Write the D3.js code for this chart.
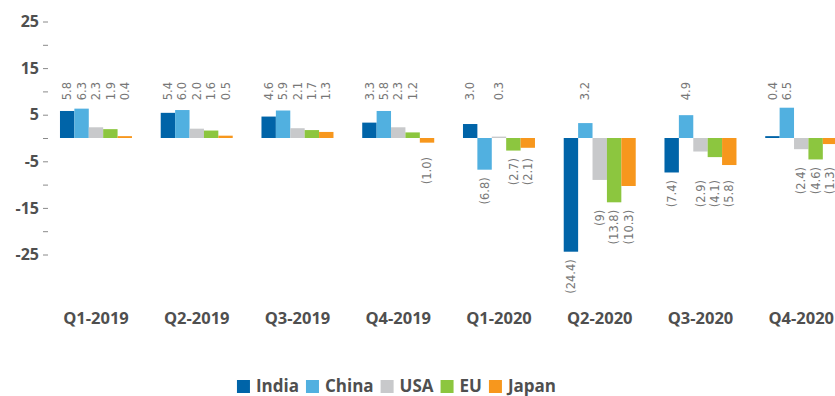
<!DOCTYPE html>
<html>
<head>
<meta charset="utf-8">
<script src="https://cdn.jsdelivr.net/npm/d3@7/dist/d3.min.js"></script>
<style>
  html, body { margin: 0; padding: 0; background: #fff; }
  svg { display: block; overflow: hidden; }
</style>
</head>
<body>
<svg id="chart" width="835" height="396"></svg>
<script>
// Quarterly GDP growth (%, year on year)
const categories = ["Q1-2019", "Q2-2019", "Q3-2019", "Q4-2019", "Q1-2020", "Q2-2020", "Q3-2020", "Q4-2020"];
const seriesNames = ["India", "China", "USA", "EU", "Japan"];
const india = ["5.8", "5.4", "4.6", "3.3", "3.0", "-24.4", "-7.4", "0.4"];
const china = ["6.3", "6.0", "5.9", "5.8", "-6.8", "3.2", "4.9", "6.5"];
const usa   = ["2.3", "2.0", "2.1", "2.3", "0.3", "-9", "-2.9", "-2.4"];
const eu    = ["1.9", "1.6", "1.7", "1.2", "-2.7", "-13.8", "-4.1", "-4.6"];
const japan = ["0.4", "0.5", "1.3", "-1.0", "-2.1", "-10.3", "-5.8", "-1.3"];
const yTicks = [-25, -20, -15, -10, -5, 0, 5, 10, 15, 20, 25];
const yTickLabels = ["-25", "", "-15", "", "-5", "", "5", "", "15", "", "25"];

const seriesValues = [india, china, usa, eu, japan];
const colors = ["#0064a8", "#51b0e0", "#c8c9cb", "#8cc63f", "#f7971d"];

const svg = d3.select("#chart");
const FONT = "'Open Sans', sans-serif";
const TEXT_DARK = "#4f4f4f";

const x0 = d3.scaleBand().domain(categories).range([45.6, 851.6])
  .paddingInner(0.2854).paddingOuter(0.1427);
const x1 = d3.scaleBand().domain(seriesNames).range([0, x0.bandwidth()]).padding(0);
const y = d3.scaleLinear().domain([-25, 25]).range([254.5, 21.5]);

// y axis: a tick every 5, labels on every other tick
const yAxis = d3.axisLeft(y).tickValues(yTicks).tickSize(5).tickPadding(4)
  .tickFormat((d, i) => yTickLabels[i]);
const gy = svg.append("g").attr("transform", "translate(48,0)").call(yAxis);
gy.select(".domain").remove();
gy.selectAll(".tick line").attr("stroke", "#8a8a8a");
gy.selectAll(".tick text")
  .attr("fill", TEXT_DARK).style("font-family", FONT).style("font-weight", 700)
  .style("font-size", "16px");

// x axis: category labels only
const xAxis = d3.axisBottom(x0).tickSize(0).tickPadding(0);
const gx = svg.append("g").attr("transform", "translate(0,312)").call(xAxis);
gx.select(".domain").remove();
gx.selectAll(".tick text")
  .attr("fill", TEXT_DARK).style("font-family", FONT).style("font-weight", 700)
  .style("font-size", "16.5px");

// flatten into bar records
const bars = [];
categories.forEach((c, ci) => {
  seriesNames.forEach((s, si) => {
    const txt = seriesValues[si][ci];
    bars.push({ cat: c, series: s, si, ci, text: txt, value: parseFloat(txt) });
  });
});

svg.append("g").selectAll("rect").data(bars).join("rect")
  .attr("x", d => x0(d.cat) + x1(d.series))
  .attr("width", x1.bandwidth())
  .attr("y", d => y(Math.max(0, d.value)))
  .attr("height", d => Math.abs(y(d.value) - y(0)))
  .attr("fill", d => colors[d.si]);

// value labels: positives sit on one common line above the tallest bar,
// negatives in each quarter are grouped when their depths are close and
// share the line below the deepest bar of their group
const GAP = 7.5;
const maxPos = d3.max(bars, d => d.value);
const posLine = y(maxPos) - GAP;
const negFloor = y(0) + 19;

categories.forEach(c => {
  const negs = bars.filter(b => b.cat === c && b.value < 0)
    .sort((a, b) => b.value - a.value);
  let cluster = [];
  const flush = () => {
    if (!cluster.length) return;
    const deepest = d3.min(cluster, b => b.value);
    const line = Math.max(y(deepest) + GAP, negFloor);
    cluster.forEach(b => b.labelY = line);
    cluster = [];
  };
  negs.forEach(b => {
    if (cluster.length && cluster[cluster.length - 1].value - b.value > 3.8) flush();
    cluster.push(b);
  });
  flush();
});

svg.append("g").selectAll("text").data(bars).join("text")
  .attr("transform", d => {
    const cx = x0(d.cat) + x1(d.series) + x1.bandwidth() / 2;
    const ly = d.value >= 0 ? posLine : d.labelY;
    return `translate(${cx},${ly}) rotate(-90)`;
  })
  .attr("dy", "0.36em")
  .attr("text-anchor", d => d.value >= 0 ? "start" : "end")
  .attr("fill", "#777")
  .style("font-family", "'DejaVu Sans', sans-serif")
  .style("font-size", "11.5px")
  .text(d => d.value >= 0 ? d.text : `(${d.text.replace("-", "")})`);

// legend, centred under the plot
const legend = svg.append("g").attr("transform", "translate(0,391.5)");
const items = legend.selectAll("g").data(seriesNames).join("g");
items.append("rect").attr("y", -11.5).attr("width", 13).attr("height", 13)
  .attr("fill", (d, i) => colors[i]);
items.append("text").attr("x", 19).text(d => d)
  .attr("fill", TEXT_DARK).style("font-family", FONT).style("font-weight", 700)
  .style("font-size", "17px");
let cursor = 0;
const offsets = [];
items.each(function () {
  const w = 19 + this.querySelector("text").getComputedTextLength();
  offsets.push(cursor);
  cursor += w + 7;
});
const total = cursor - 7;
const startX = 396.5 - total / 2;
items.attr("transform", (d, i) => `translate(${startX + offsets[i]},0)`);
</script>
</body>
</html>
